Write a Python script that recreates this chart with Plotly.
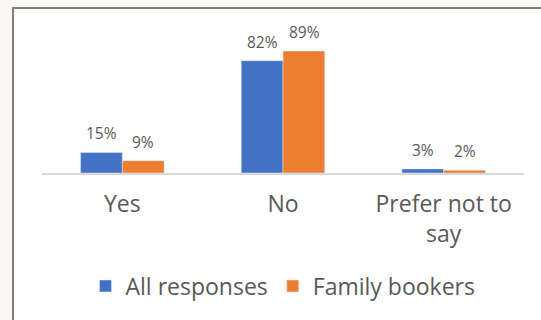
import plotly.graph_objects as go

categories = ["Yes", "No", "Prefer not to<br>say"]
all_responses = [15, 82, 3]
family_bookers = [9, 89, 2]
series_names = ["All responses", "Family bookers"]

W, H = 541, 320
L, R, T, B = 42, 17, 36, 147
pw, ph = W - L - R, H - T - B

def px_x(px):
    return (px - L) / pw

def px_y(py):
    return 1 - (py - T) / ph

FONT = "Open Sans, sans-serif"
fig = go.Figure()
annots = []
for name, vals, col, xs in [(series_names[0], all_responses, "#4472c4", -21),
                            (series_names[1], family_bookers, "#ed7d31", 21)]:
    fig.add_trace(go.Bar(name=name, x=categories, y=vals, marker_color=col))
    for c, v in zip(categories, vals):
        annots.append(dict(x=c, y=v, xref="x", yref="y", text=f"{v}%", showarrow=False,
                           xshift=xs, yshift=19, yanchor="middle",
                           font=dict(size=15.5, color="#595959", family=FONT)))

fig.update_layout(
    width=W, height=H,
    margin=dict(l=L, r=R, t=T, b=B),
    paper_bgcolor="#f9f8f4",
    plot_bgcolor="rgba(0,0,0,0)",
    barmode="group", bargap=0.48, bargroupgap=0,
    font=dict(family=FONT, color="#595959"),
    showlegend=True,
    legend=dict(orientation="h", x=0.5, xanchor="center", y=px_y(286), yanchor="middle",
                bgcolor="rgba(0,0,0,0)",
                font=dict(size=23, color="#595959"), itemwidth=30, traceorder="normal"),
    xaxis=dict(showgrid=False, showline=True, linecolor="#d9d9d9", linewidth=1.5,
               ticks="", tickfont=dict(size=23, color="#595959"), ticklabelstandoff=10),
    yaxis=dict(range=[0, 100], visible=False),
    annotations=annots,
    shapes=[dict(type="rect", xref="paper", yref="paper", layer="below",
                 x0=px_x(13), x1=px_x(560), y0=px_y(340), y1=px_y(8),
                 fillcolor="white", line=dict(color="#808080", width=2))],
)

fig.write_html("out.html")
